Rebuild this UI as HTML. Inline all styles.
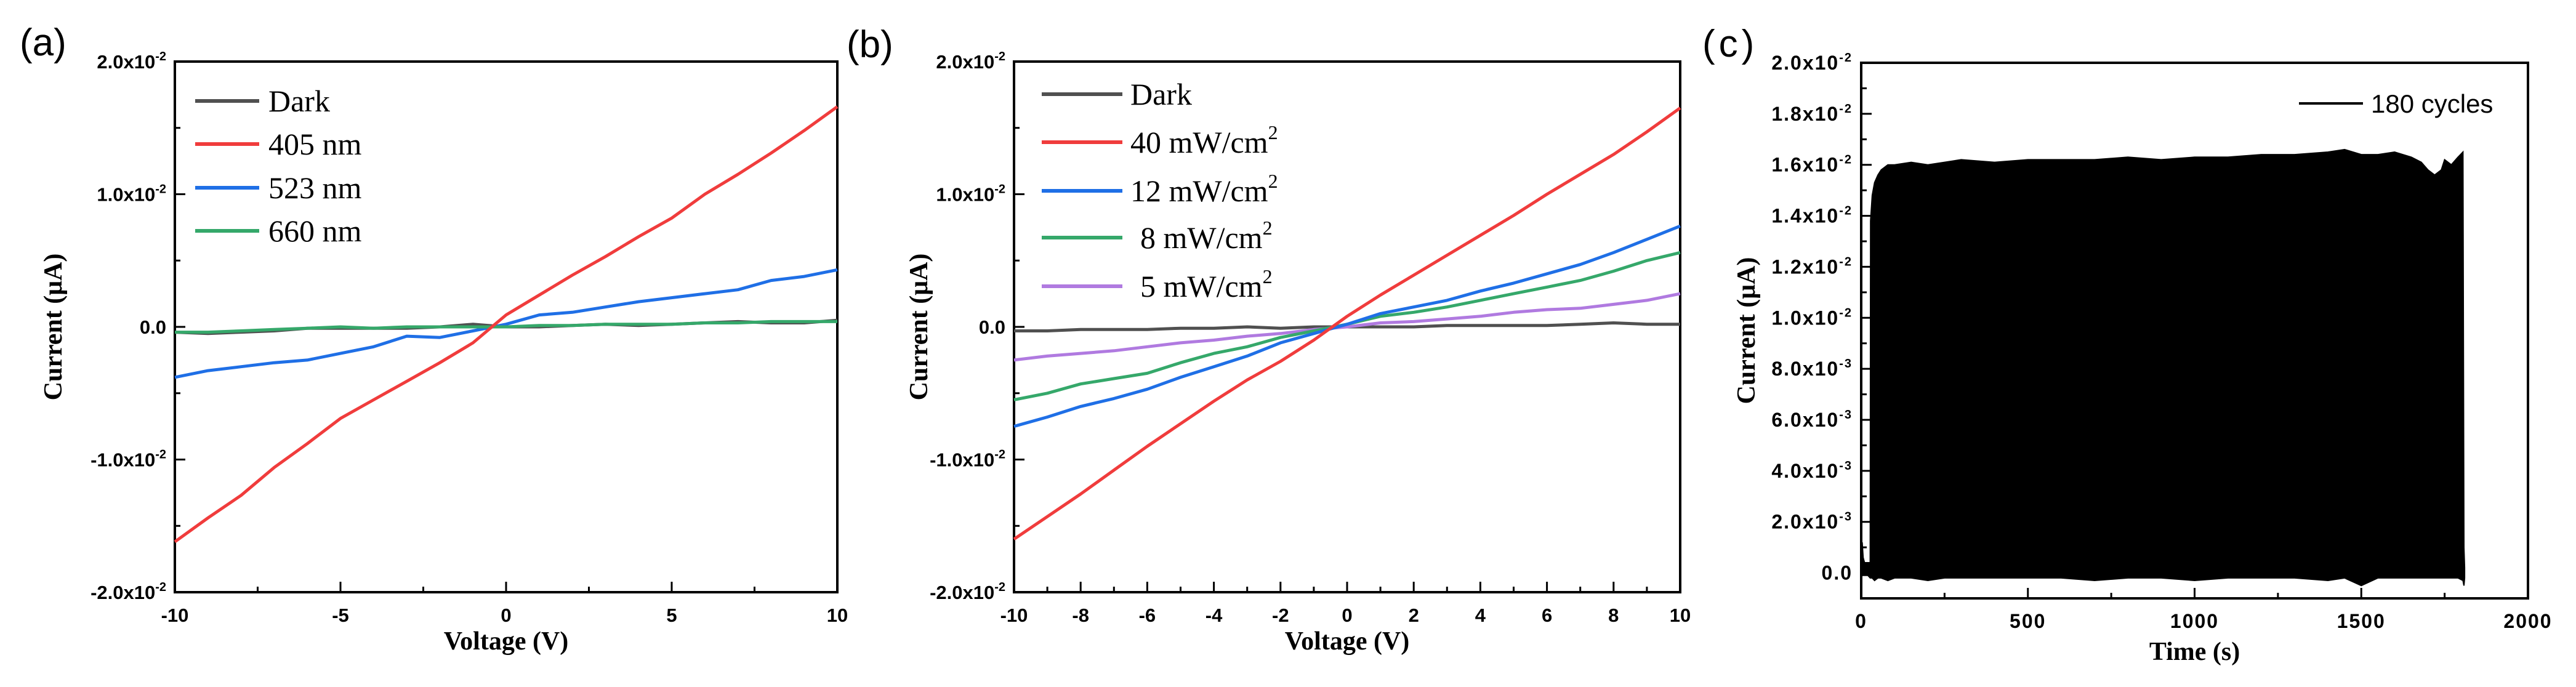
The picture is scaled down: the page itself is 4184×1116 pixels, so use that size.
<!DOCTYPE html>
<html><head><meta charset="utf-8"><style>
html,body{margin:0;padding:0;background:#fff;}
svg{display:block;}
.tk{font-family:"Liberation Sans",Arial,sans-serif;font-weight:bold;font-size:31px;fill:#000;}
.tkc{font-family:"Liberation Sans",Arial,sans-serif;font-weight:bold;font-size:32px;fill:#000;letter-spacing:2px;}
.ti{font-family:"Liberation Serif","Times New Roman",serif;font-weight:bold;font-size:42px;fill:#000;}
.lg{font-family:"Liberation Serif","Times New Roman",serif;font-size:50px;fill:#000;}
.pl{font-family:"Liberation Sans",Arial,sans-serif;font-size:62px;fill:#000;}
</style></head><body>
<svg id="fig" xmlns="http://www.w3.org/2000/svg" width="4184" height="1116" viewBox="0 0 4184 1116"></svg>
<script>
// ---- data panel (a) ----
const voltsA = [-10,-9,-8,-7,-6,-5,-4,-3,-2,-1,0,1,2,3,4,5,6,7,8,9,10];
const a405 = [-1.62,-1.44,-1.27,-1.06,-0.88,-0.69,-0.55,-0.41,-0.27,-0.12,0.09,0.24,0.39,0.53,0.68,0.82,1.0,1.15,1.31,1.48,1.66];
const a523 = [-0.38,-0.33,-0.3,-0.27,-0.25,-0.2,-0.15,-0.07,-0.08,-0.03,0.02,0.09,0.11,0.15,0.19,0.22,0.25,0.28,0.35,0.38,0.43];
const a660 = [-0.04,-0.04,-0.03,-0.02,-0.01,0.0,-0.01,0.0,0.0,0.0,0.0,0.01,0.01,0.02,0.02,0.02,0.03,0.03,0.04,0.04,0.04];
const aDark = [-0.04,-0.05,-0.04,-0.03,-0.01,-0.01,-0.01,-0.01,0.0,0.02,0.0,0.0,0.01,0.02,0.01,0.02,0.03,0.04,0.03,0.03,0.05];
// ---- data panel (b) ----
const voltsB = [-10,-9,-8,-7,-6,-5,-4,-3,-2,-1,0,1,2,3,4,5,6,7,8,9,10];
const b40 = [-1.6,-1.43,-1.26,-1.08,-0.9,-0.73,-0.56,-0.4,-0.26,-0.1,0.08,0.24,0.39,0.54,0.69,0.84,1.0,1.15,1.3,1.47,1.65];
const b12 = [-0.75,-0.68,-0.6,-0.54,-0.47,-0.38,-0.3,-0.22,-0.12,-0.05,0.02,0.1,0.15,0.2,0.27,0.33,0.4,0.47,0.56,0.66,0.76];
const b8 = [-0.55,-0.5,-0.43,-0.39,-0.35,-0.27,-0.2,-0.15,-0.08,-0.03,0.02,0.08,0.11,0.15,0.2,0.25,0.3,0.35,0.42,0.5,0.56];
const b5 = [-0.25,-0.22,-0.2,-0.18,-0.15,-0.12,-0.1,-0.07,-0.05,-0.02,0.0,0.03,0.04,0.06,0.08,0.11,0.13,0.14,0.17,0.2,0.25];
const bDark = [-0.03,-0.03,-0.02,-0.02,-0.02,-0.01,-0.01,0.0,-0.01,0.0,0.0,0.0,0.0,0.01,0.01,0.01,0.01,0.02,0.03,0.02,0.02];
// ---- data panel (c): envelopes of the 180 cycles (units 1e-2 uA) ----
const timeC = [0,3,6,10,20,27,28,33,40,50,60,80,100,150,200,250,300,400,500,600,700,800,900,1000,1100,1200,1300,1400,1450,1500,1550,1600,1650,1680,1700,1720,1740,1750,1770,1790,1805,1808,1810];
const upperC = [0.03,0.12,0.06,0.04,0.04,0.04,1.38,1.48,1.53,1.56,1.58,1.6,1.6,1.61,1.6,1.61,1.62,1.61,1.62,1.62,1.62,1.63,1.62,1.63,1.63,1.64,1.64,1.65,1.66,1.64,1.64,1.65,1.63,1.61,1.58,1.56,1.58,1.62,1.6,1.63,1.65,0.1,0.02];
const lowerC = [-0.02,-0.01,-0.01,-0.01,-0.01,-0.02,-0.02,-0.02,-0.03,-0.02,-0.02,-0.03,-0.02,-0.02,-0.03,-0.02,-0.02,-0.02,-0.02,-0.02,-0.03,-0.02,-0.02,-0.03,-0.02,-0.02,-0.02,-0.03,-0.02,-0.05,-0.02,-0.02,-0.02,-0.02,-0.02,-0.02,-0.02,-0.02,-0.02,-0.02,-0.03,-0.05,-0.02];
const ticksAx = [-10,-5,0,5,10];
const ticksBx = [-10,-8,-6,-4,-2,0,2,4,6,8,10];
const ticksABy = [-2,-1,0,1,2];
const labelsABy = [["-2.0x10","-2"],["-1.0x10","-2"],["0.0",""],["1.0x10","-2"],["2.0x10","-2"]];
const ticksCx = [0,500,1000,1500,2000];
const ticksCy = [0,0.2,0.4,0.6,0.8,1.0,1.2,1.4,1.6,1.8,2.0];
const labelsCy = [["0.0",""],["2.0x10","-3"],["4.0x10","-3"],["6.0x10","-3"],["8.0x10","-3"],["1.0x10","-2"],["1.2x10","-2"],["1.4x10","-2"],["1.6x10","-2"],["1.8x10","-2"],["2.0x10","-2"]];

const NS = "http://www.w3.org/2000/svg";
const svg = document.getElementById("fig");
function mk(tag, attrs, parent){
  const e = document.createElementNS(NS, tag);
  for (const k in attrs) e.setAttribute(k, attrs[k]);
  (parent||svg).appendChild(e);
  return e;
}
function scale(d0,d1,r0,r1){ return v => r0 + (v-d0)/(d1-d0)*(r1-r0); }

function panel(p){
  const g = mk("g", {});
  
  
  const xs = scale(p.xd[0],p.xd[1],p.L,p.R), ys = scale(p.yd[0],p.yd[1],p.B,p.T);
  const cls = p.tkc || "tk";
  for (let i=0;i<p.xt.length-1;i++){
    const xm = xs((p.xt[i]+p.xt[i+1])/2);
    const t = mk("line",{x1:xm,x2:xm,y1:p.B,y2:p.B-9,stroke:"#000","stroke-width":3},g);
    
    
  }
  for (let i=0;i<p.yt.length-1;i++){
    const ym = ys((p.yt[i]+p.yt[i+1])/2);
    const t = mk("line",{x1:p.L,x2:p.L+9,y1:ym,y2:ym,stroke:"#000","stroke-width":3},g);
    
    
  }
  p.xt.forEach(v=>{
    const x = xs(v);
    const t = mk("line",{x1:x,x2:x,y1:p.B,y2:p.B-17,stroke:"#000","stroke-width":3},g);
    
    
    const tx = mk("text",{x:x,y:p.B+p.xlOff,"text-anchor":"middle",class:cls},g);
    tx.textContent = String(v);
    
    
  });
  p.yt.forEach((v,i)=>{
    const y = ys(v);
    const t = mk("line",{x1:p.L,x2:p.L+17,y1:y,y2:y,stroke:"#000","stroke-width":3},g);
    
    
    const lab = p.yl[i];
    const tx = mk("text",{x:p.L-14,y:y+11,"text-anchor":"end",class:cls},g);
    
    
    const s1 = mk("tspan",{},tx); s1.textContent = lab[0];
    if (lab[1]){ const s2 = mk("tspan",{dy:-13,"font-size":20},tx); s2.textContent = lab[1]; }
  });
  const fr = mk("rect",{x:p.L,y:p.T,width:p.R-p.L,height:p.B-p.T,fill:"none",stroke:"#000","stroke-width":4},g);
  
  
  const xt = mk("text",{x:(p.L+p.R)/2,y:p.B+p.xtOff,"text-anchor":"middle",class:"ti"},g);
  xt.textContent = p.xtitle;
  
  
  const yt = mk("text",{x:0,y:0,"text-anchor":"middle",class:"ti",transform:`translate(${p.ytx},${(p.T+p.B)/2}) rotate(-90)`},g);
  yt.textContent = "Current (\u03bcA)";
  
  
  const pl = mk("text",{x:p.plx,y:p.ply,class:"pl","letter-spacing":p.pls||0},g);
  pl.textContent = p.plabel;
  
  
  return {g,xs,ys};
}
function series(ax, xv, yv, color, name){
  const d = xv.map((x,i)=>(i?"L":"M")+ax.xs(x).toFixed(1)+","+ax.ys(yv[i]).toFixed(1)).join("");
  const p = mk("path",{d:d,fill:"none",stroke:color,"stroke-width":5,"stroke-linejoin":"round"},ax.g);
  
  
}
function legend(g, x1, x2, tx, y, color, text, name, sup){
  const l = mk("line",{x1:x1,x2:x2,y1:y,y2:y,stroke:color,"stroke-width":6},g);
  
  
  const t = mk("text",{x:tx,y:y+17,class:"lg"},g);
  
  
  const s = mk("tspan",{},t); s.textContent = text;
  if (sup){ const s2 = mk("tspan",{dy:-22,"font-size":32},t); s2.textContent = sup; }
}
const cA = "#f03c3c", cB = "#1f6fe6", cG = "#35a86a", cD = "#505050", cP = "#b07ae0";

// Panel (a)
const A = panel({name:"panel-a",L:284,R:1360,T:100,B:962,xd:[-10,10],yd:[-2,2],xt:ticksAx,yt:ticksABy,yl:labelsABy,
  xlOff:48,xtOff:93,xtitle:"Voltage (V)",ytx:100,plabel:"(a)",plx:32,ply:90});
series(A, voltsA, aDark, cD, "dark-curve");
series(A, voltsA, a523, cB, "523nm-curve");
series(A, voltsA, a660, cG, "660nm-curve");
series(A, voltsA, a405, cA, "405nm-curve");
legend(A.g,317,421,436,164,cD,"Dark","legend-dark");
legend(A.g,317,421,436,234,cA,"405 nm","legend-405nm");
legend(A.g,317,421,436,305,cB,"523 nm","legend-523nm");
legend(A.g,317,421,436,375,cG,"660 nm","legend-660nm");

// Panel (b)
const B = panel({name:"panel-b",L:1647,R:2729,T:100,B:962,xd:[-10,10],yd:[-2,2],xt:ticksBx,yt:ticksABy,yl:labelsABy,
  xlOff:48,xtOff:93,xtitle:"Voltage (V)",ytx:1506,plabel:"(b)",plx:1375,ply:93});
series(B, voltsB, bDark, cD, "dark-curve");
series(B, voltsB, b5, cP, "5mw-curve");
series(B, voltsB, b8, cG, "8mw-curve");
series(B, voltsB, b12, cB, "12mw-curve");
series(B, voltsB, b40, cA, "40mw-curve");
legend(B.g,1692,1823,1836,153,cD,"Dark","legend-dark");
legend(B.g,1692,1823,1836,231,cA,"40 mW/cm","legend-40mw","2");
legend(B.g,1692,1823,1836,310,cB,"12 mW/cm","legend-12mw","2");
legend(B.g,1692,1823,1852,386,cG,"8 mW/cm","legend-8mw","2");
legend(B.g,1692,1823,1852,465,cP,"5 mW/cm","legend-5mw","2");

// Panel (c)
const C = panel({name:"panel-c",L:3023,R:4106,T:102,B:972,xd:[0,2000],yd:[-0.1,2.0],xt:ticksCx,yt:ticksCy,yl:labelsCy,tkc:"tkc",
  xlOff:48,xtOff:100,xtitle:"Time (s)",ytx:2850,plabel:"(c)",plx:2765,ply:92,pls:6});
{
  let d = "M"+C.xs(timeC[0]).toFixed(1)+","+C.ys(lowerC[0]).toFixed(1);
  timeC.forEach((t,i)=>{ d += "L"+C.xs(t).toFixed(1)+","+C.ys(upperC[i]).toFixed(1); });
  for (let i=timeC.length-1;i>=0;i--){ d += "L"+C.xs(timeC[i]).toFixed(1)+","+C.ys(lowerC[i]).toFixed(1); }
  d += "Z";
  const p = mk("path",{d:d,fill:"#000",stroke:"#000","stroke-width":2},C.g);
  
  
}
{
  const l = mk("line",{x1:3734,x2:3838,y1:168,y2:168,stroke:"#000","stroke-width":4},C.g);
  
  
  const t = mk("text",{x:3851,y:183,"font-family":"Liberation Sans, Arial, sans-serif","font-size":42},C.g);
  t.textContent = "180 cycles";
  
  
}
</script>
</body></html>
